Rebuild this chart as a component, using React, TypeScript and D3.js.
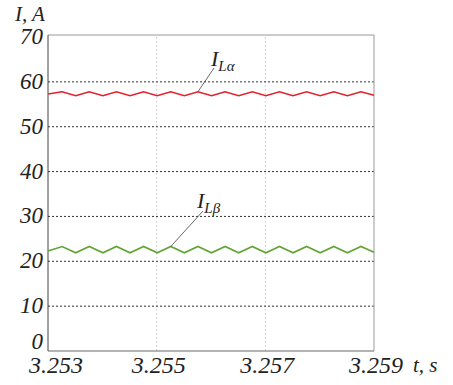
import React from 'react';
import * as d3 from 'd3';

// time stamps of the ripple turning points (s)
const times = [
  3.253, 3.25326, 3.25351, 3.25376, 3.25401, 3.25426, 3.25451, 3.25476, 3.25501,
  3.25526, 3.25551, 3.25576, 3.25601, 3.25626, 3.25651, 3.25676, 3.25701,
  3.25726, 3.25751, 3.25776, 3.25801, 3.25826, 3.25851, 3.25876, 3.259,
];
// I_Lα (A)
const iLa = [
  57.3, 57.8, 56.9, 57.8, 56.9, 57.8, 56.9, 57.8, 56.9, 57.8, 56.9, 57.8, 56.9,
  57.8, 56.9, 57.8, 56.9, 57.8, 56.9, 57.8, 56.9, 57.8, 56.9, 57.8, 57.0,
];
// I_Lβ (A)
const iLb = [
  22.3, 23.3, 21.9, 23.3, 21.9, 23.3, 21.9, 23.3, 21.9, 23.3, 21.9, 23.3, 21.9,
  23.3, 21.9, 23.3, 21.9, 23.3, 21.9, 23.3, 21.9, 23.3, 21.9, 23.3, 22.0,
];
const yTicks = [0, 10, 20, 30, 40, 50, 60, 70];
const xTicks = [3.253, 3.255, 3.257, 3.259];

const left = 48;
const right = 374;
const top = 37;
const bottom = 351;
const serif = "'Times New Roman', 'Liberation Serif', Tinos, serif";

export default function App() {
  const x = d3.scaleLinear().domain([3.253, 3.259]).range([left, right]);
  const y = d3.scaleLinear().domain([0, 70]).range([bottom, top]);
  const line = d3.line<number>()
    .x((_, i) => x(times[i]))
    .y(d => y(d));

  const txt = { fontFamily: serif, fontStyle: 'italic', fill: '#222' } as const;

  return (
    <svg width={453} height={385} style={{ position: 'absolute', left: 0, top: 0, background: '#fff' }}>
      {/* vertical grid */}
      {xTicks.slice(1, -1).map(t => (
        <line key={t} x1={x(t)} x2={x(t)} y1={y(70)} y2={y(0)}
          stroke="#c8c8c8" strokeDasharray="1.5,2.5" strokeWidth={1} />
      ))}
      {/* horizontal grid */}
      {yTicks.slice(1, -1).map(v => (
        <line key={v} x1={left} x2={right} y1={y(v)} y2={y(v)}
          stroke="#333" strokeDasharray="2,2" strokeWidth={1} />
      ))}
      {/* frame */}
      <line x1={left} x2={right} y1={top - 2} y2={top - 2} stroke="#999" />
      <line x1={right} x2={right} y1={top - 2} y2={bottom} stroke="#999" />
      <line x1={left} x2={left} y1={top - 2} y2={bottom} stroke="#444" />
      <line x1={left} x2={right} y1={bottom} y2={bottom} stroke="#666" />

      <path d={line(iLa) || ''} fill="none" stroke="#e3202b" strokeWidth={1.5} />
      <path d={line(iLb) || ''} fill="none" stroke="#62a434" strokeWidth={1.6} />

      {/* y tick labels */}
      {yTicks.map(v => (
        <text key={v} x={left - 5} y={v === 0 ? y(v) - 2 : y(v) + 7} textAnchor="end"
          style={{ ...txt, fontSize: 23 }}>{v}</text>
      ))}
      <text x={15} y={21} style={{ ...txt, fontSize: 21 }}>I, A</text>

      {/* x tick labels */}
      {xTicks.map((t, i) => (
        <text key={t} x={x(t) + (i === 0 ? 8 : 2)} y={373} textAnchor="middle"
          style={{ ...txt, fontSize: 24 }}>{t.toFixed(3)}</text>
      ))}
      <text x={413} y={372} style={{ ...txt, fontSize: 21 }}>t, s</text>

      {/* annotations */}
      <line x1={x(3.25576)} y1={y(57.8)} x2={214} y2={68} stroke="#444" strokeWidth={0.8} />
      <text x={211} y={66} style={{ ...txt, fontSize: 22 }}>
        I<tspan style={{ fontSize: 15 }} dy={5}>Lα</tspan>
      </text>
      <line x1={x(3.25526)} y1={y(23.3)} x2={203} y2={211} stroke="#444" strokeWidth={0.8} />
      <text x={197} y={208} style={{ ...txt, fontSize: 22 }}>
        I<tspan style={{ fontSize: 15 }} dy={5}>Lβ</tspan>
      </text>
    </svg>
  );
}
